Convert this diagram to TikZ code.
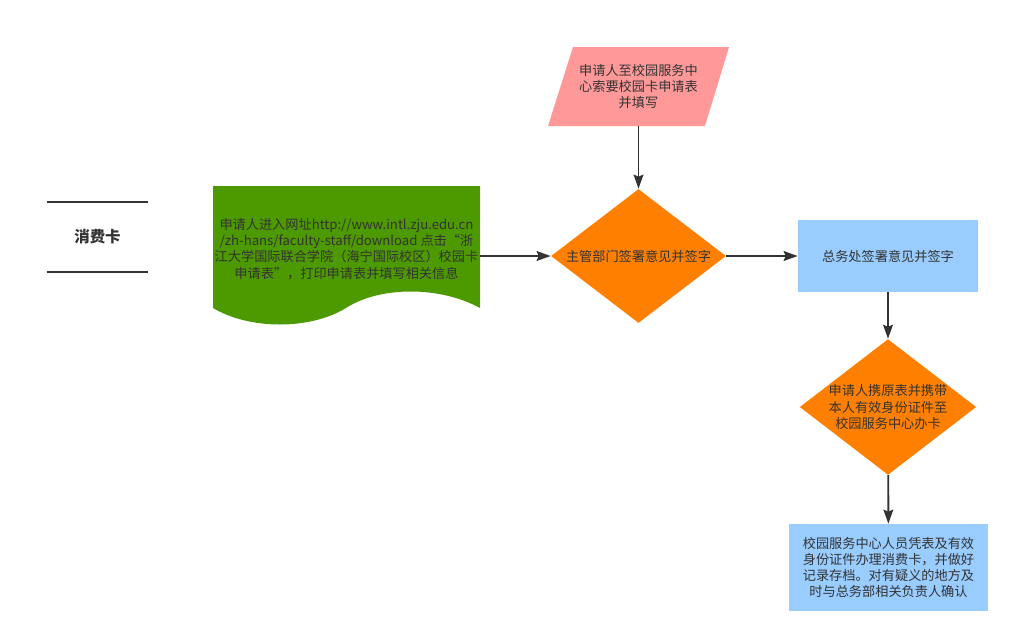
\documentclass[tikz,border=0pt]{standalone}
\usepackage{fontspec}
\setmainfont{Noto Sans CJK SC}
\usetikzlibrary{shapes.geometric, arrows.meta}
\definecolor{ink}{HTML}{333333}
\definecolor{webgreen}{HTML}{4D9900}
\definecolor{formpink}{HTML}{FF9999}
\definecolor{checkorange}{HTML}{FF8000}
\definecolor{officeblue}{HTML}{99CCFF}
\tikzset{arrow/.style={->, >={Stealth[length=8pt, width=5.6pt, inset=1.2pt]}, draw=ink, line width=1.1pt}}
\tikzset{txt/.style={text=ink, font=\fontsize{7.5}{9.2}\selectfont, align=center, inner sep=0pt}}
\tikzset{check/.style={txt, diamond, aspect=1.3, fill=checkorange, minimum width=3.5cm, minimum height=2.68cm}}
\tikzset{desk/.style={txt, rectangle, fill=officeblue}}

\begin{document}
\begin{tikzpicture}[x=0.02cm, y=-0.02cm]
      \useasboundingbox (0,0) rectangle (1018,643);

      \node[txt, font=\bfseries\fontsize{8.8}{10}\selectfont, minimum width=2.02cm, minimum height=1.38cm] (title) at (97.5, 237) {消费卡};
      \draw[ink, line width=1.1pt] (title.north west) -- (title.north east);
      \draw[ink, line width=1.1pt] (title.south west) -- (title.south east);

      \fill[webgreen] (213, 186) -- (480, 186) -- (480, 308)
        .. controls (440, 286) and (380, 286) .. (346, 308)
        .. controls (310, 330) and (250, 330) .. (213, 308) -- cycle;
      \node[txt] (web) at (346.5, 249) {申请人进入网址http://www.intl.zju.edu.cn\\/zh-hans/faculty-staff/download 点击“浙\\江大学国际联合学院（海宁国际校区）校园卡\\申请表”，打印申请表并填写相关信息};
      \coordinate (webout) at (480, 256);

      \fill[formpink] (573, 47) -- (729, 47) -- (705, 126) -- (548, 126) -- cycle;
      \node[txt, minimum width=3.1cm, minimum height=1.58cm] (form) at (638.5, 86.5) {申请人至校园服务中\\心索要校园卡申请表\\并填写};

      \node[check] (mgr) at (638.5, 256) {主管部门签署意见并签字};
      \node[desk, minimum width=3.6cm, minimum height=1.44cm] (office) at (888, 256) {总务处签署意见并签字};
      \node[check, minimum width=3.44cm] (apply) at (888, 407) {申请人携原表并携带\\本人有效身份证件至\\校园服务中心办卡};
      \node[desk, minimum width=3.98cm, minimum height=1.74cm] (issue) at (888.5, 567.5) {校园服务中心人员凭表及有效\\身份证件办理消费卡，并做好\\记录存档。对有疑义的地方及\\时与总务部相关负责人确认};

      \draw[arrow] (form) -- (mgr);
      \draw[arrow] (webout) -- (mgr);
      \draw[arrow] (mgr) -- (office);
      \draw[arrow] (office) -- (apply);
      \draw[arrow] (apply) -- (issue);
\end{tikzpicture}
\end{document}
